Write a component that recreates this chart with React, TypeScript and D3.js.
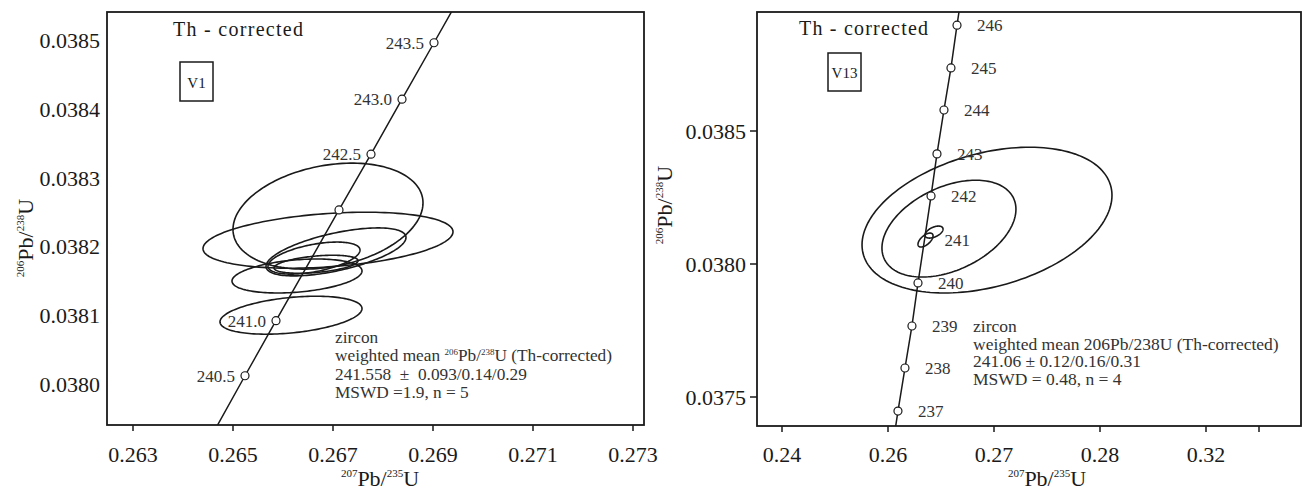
import React from "react";
import * as d3 from "d3";

// ---------- Left panel (V1) data ----------
const leftXTicks = [0.263, 0.265, 0.267, 0.269, 0.271, 0.273];
const leftYTicks = [0.038, 0.0381, 0.0382, 0.0383, 0.0384, 0.0385];
const leftConcAges = [240.0, 240.5, 241.0, 242.0, 242.5, 243.0, 243.5, 244.0];
const leftConcX = [0.26462, 0.26524, 0.26586, 0.26712, 0.26776, 0.26838, 0.26902, 0.26965];
const leftConcY = [0.037931, 0.038012, 0.038092, 0.038253, 0.038334, 0.038414, 0.038496, 0.038577];
const leftMarkerAges = [240.5, 241.0, 242.0, 242.5, 243.0, 243.5];
const leftLabelAges = [240.5, 241.0, 242.5, 243.0, 243.5];
// ellipses: center x, center y, half-width x, half-height y, correlation
const leftEllCX = [0.2669, 0.2669, 0.26706, 0.26662, 0.26666, 0.26628, 0.26616];
const leftEllCY = [0.038244, 0.038209, 0.038192, 0.038183, 0.038174, 0.038157, 0.0381];
const leftEllSX = [0.0019, 0.0025, 0.0014, 0.00092, 0.00084, 0.0013, 0.00142];
const leftEllSY = [0.000077, 0.0000407, 0.0000349, 0.0000233, 0.0000131, 0.0000247, 0.0000276];
const leftEllRho = [0.25, 0.3, 0.6, 0.5, 0.4, 0.3, 0.35];
const leftNotes = [
  "zircon",
  "weighted mean ²⁰⁶Pb/²³⁸U (Th-corrected)",
  "241.558  ±  0.093/0.14/0.29",
  "MSWD =1.9, n = 5",
];

// ---------- Right panel (V13) data ----------
const rightXTicks = [0.25, 0.26, 0.27, 0.28, 0.29, 0.295];
const rightXTickLabels = ["0.24", "0.26", "0.27", "0.28", "0.32", ""];
const rightYTicks = [0.0375, 0.038, 0.0385];
const rightConcAges = [236, 237, 238, 239, 240, 241, 242, 243, 244, 245, 246, 247];
const rightConcX = [0.26033, 0.26094, 0.2616, 0.26226, 0.26283, 0.26344, 0.26406, 0.26462, 0.26528, 0.26594, 0.26651, 0.26712];
const rightConcY = [0.037286, 0.037447, 0.037609, 0.037767, 0.037929, 0.03809, 0.038256, 0.038414, 0.038579, 0.038737, 0.038898, 0.03906];
const rightMarkerAges = [237, 238, 239, 240, 242, 243, 244, 245, 246];
const rightLabelAges = [237, 238, 239, 240, 241, 242, 243, 244, 245, 246];
const rightEllCX = [0.26934, 0.26575, 0.26434, 0.26354];
const rightEllCY = [0.038165, 0.038133, 0.03812, 0.03809];
const rightEllSX = [0.01179, 0.00632, 0.00085, 0.00071];
const rightEllSY = [0.000274, 0.000182, 0.0000226, 0.0000263];
const rightEllRho = [0.34, 0.4, 0.5, 0.6];
const rightNotes = [
  "zircon",
  "weighted mean 206Pb/238U (Th-corrected)",
  "241.06 ± 0.12/0.16/0.31",
  "MSWD = 0.48, n = 4",
];

const FONT = "'Liberation Serif', 'Times New Roman', serif";
const INK = "#1a1a1a";

function ellipsePath(
  cx: number, cy: number, sx: number, sy: number, rho: number,
  xs: d3.ScaleLinear<number, number>, ys: d3.ScaleLinear<number, number>
) {
  const pts: [number, number][] = d3.range(0, 160).map((i) => {
    const t = (i / 160) * 2 * Math.PI;
    const x = cx + sx * Math.cos(t);
    const y = cy + sy * (rho * Math.cos(t) + Math.sqrt(1 - rho * rho) * Math.sin(t));
    return [xs(x), ys(y)];
  });
  return d3.line().curve(d3.curveLinearClosed)(pts) || "";
}

function AxisTitle({ x, y, a, b, rotate }: { x: number; y: number; a: string; b: string; rotate?: boolean }) {
  return (
    <text transform={rotate ? `translate(${x},${y}) rotate(-90)` : `translate(${x},${y})`} fontSize={22} textAnchor="middle" fontFamily={FONT} fill={INK}>
      <tspan fontSize={11} dy={-9}>{a}</tspan><tspan dy={9}>Pb/</tspan><tspan fontSize={11} dy={-9}>{b}</tspan><tspan dy={9}>U</tspan>
    </text>
  );
}

function LeftPanel() {
  const L = 107, R = 644, T = 12, B = 425;
  const xs = d3.scaleLinear().domain([0.263, 0.273]).range([133, 633]);
  const ys = d3.scaleLinear().domain([0.038, 0.0385]).range([384, 40]);
  const conc = d3.line<number>().x((_, i) => xs(leftConcX[i])).y((_, i) => ys(leftConcY[i]));
  const idx = (a: number) => leftConcAges.indexOf(a);
  return (
    <g>
      <defs>
        <clipPath id="clipL"><rect x={L} y={T} width={R - L} height={B - T} /></clipPath>
      </defs>
      <rect x={L} y={T} width={R - L} height={B - T} fill="none" stroke={INK} strokeWidth={1.8} />
      {leftXTicks.map((t) => (
        <g key={t}>
          <line x1={xs(t)} x2={xs(t)} y1={B} y2={B + 6} stroke={INK} strokeWidth={1.5} />
          <text x={xs(t)} y={462} fontSize={22} textAnchor="middle" fontFamily={FONT} fill={INK}>{t.toFixed(3)}</text>
        </g>
      ))}
      {leftYTicks.map((t) => (
        <text key={t} x={100} y={ys(t) + 8} fontSize={22} textAnchor="end" fontFamily={FONT} fill={INK}>{t.toFixed(4)}</text>
      ))}
      <g clipPath="url(#clipL)">
        {leftEllCX.map((_, i) => (
          <path key={i} d={ellipsePath(leftEllCX[i], leftEllCY[i], leftEllSX[i], leftEllSY[i], leftEllRho[i], xs, ys)}
            fill="none" stroke={INK} strokeWidth={1.6} />
        ))}
        <path d={conc(leftConcAges) || ""} fill="none" stroke={INK} strokeWidth={1.5} />
        {leftMarkerAges.map((a) => (
          <circle key={a} cx={xs(leftConcX[idx(a)])} cy={ys(leftConcY[idx(a)])} r={4} fill="#fff" stroke={INK} strokeWidth={1.2} />
        ))}
      </g>
      {leftLabelAges.map((a) => (
        <text key={a} x={xs(leftConcX[idx(a)]) - 10} y={ys(leftConcY[idx(a)]) + 6} fontSize={17} textAnchor="end" fontFamily={FONT} fill="#333">{a.toFixed(1)}</text>
      ))}
      <text x={173} y={36} fontSize={20} fontFamily={FONT} fill={INK} textLength={130} lengthAdjust="spacing">Th - corrected</text>
      <rect x={180} y={62} width={33} height={39} fill="none" stroke={INK} strokeWidth={1.5} />
      <text x={196.5} y={88} fontSize={15} textAnchor="middle" fontFamily={FONT} fill={INK}>V1</text>
      <g fontFamily={FONT} fill="#333" fontSize={17.3}>
        {leftNotes.map((s, i) => (
          <text key={i} x={335} y={343 + i * 18.3} style={{ whiteSpace: "pre" }}>
            {i === 1 ? (
              <>
                weighted mean <tspan fontSize={9} dy={-6}>206</tspan><tspan dy={6}>Pb/</tspan><tspan fontSize={9} dy={-6}>238</tspan><tspan dy={6}>U (Th-corrected)</tspan>
              </>
            ) : s}
          </text>
        ))}
      </g>
      <AxisTitle x={380} y={486} a="207" b="235" />
      <AxisTitle x={33} y={238} a="206" b="238" rotate />
    </g>
  );
}

function RightPanel() {
  const L = 757, R = 1301, T = 12, B = 426;
  const xs = d3.scaleLinear().domain([0.26, 0.27]).range([888, 994]);
  const ys = d3.scaleLinear().domain([0.0375, 0.0385]).range([397, 131]);
  const conc = d3.line<number>().x((_, i) => xs(rightConcX[i])).y((_, i) => ys(rightConcY[i]));
  const idx = (a: number) => rightConcAges.indexOf(a);
  return (
    <g>
      <defs>
        <clipPath id="clipR"><rect x={L} y={T} width={R - L} height={B - T} /></clipPath>
      </defs>
      <rect x={L} y={T} width={R - L} height={B - T} fill="none" stroke={INK} strokeWidth={1.8} />
      {rightXTicks.map((t, i) => (
        <g key={t}>
          <line x1={xs(t)} x2={xs(t)} y1={B} y2={B + 6} stroke={INK} strokeWidth={1.5} />
          <text x={xs(t)} y={462} fontSize={22} textAnchor="middle" fontFamily={FONT} fill={INK}>{rightXTickLabels[i]}</text>
        </g>
      ))}
      {rightYTicks.map((t) => (
        <g key={t}>
          <line x1={L - 7} x2={L} y1={ys(t)} y2={ys(t)} stroke={INK} strokeWidth={1.5} />
          <text x={746} y={ys(t) + 8} fontSize={22} textAnchor="end" fontFamily={FONT} fill={INK}>{t.toFixed(4)}</text>
        </g>
      ))}
      <g clipPath="url(#clipR)">
        {rightEllCX.map((_, i) => (
          <path key={i} d={ellipsePath(rightEllCX[i], rightEllCY[i], rightEllSX[i], rightEllSY[i], rightEllRho[i], xs, ys)}
            fill="none" stroke={INK} strokeWidth={1.6} />
        ))}
        <path d={conc(rightConcAges) || ""} fill="none" stroke={INK} strokeWidth={1.5} />
        {rightMarkerAges.map((a) => (
          <circle key={a} cx={xs(rightConcX[idx(a)])} cy={ys(rightConcY[idx(a)])} r={4} fill="#fff" stroke={INK} strokeWidth={1.2} />
        ))}
      </g>
      {rightLabelAges.map((a) => (
        <text key={a} x={xs(rightConcX[idx(a)]) + 20} y={ys(rightConcY[idx(a)]) + 6} fontSize={17} fontFamily={FONT} fill="#333">{a}</text>
      ))}
      <text x={799} y={35} fontSize={20} fontFamily={FONT} fill={INK} textLength={129} lengthAdjust="spacing">Th - corrected</text>
      <rect x={828} y={53} width={33} height={38} fill="none" stroke={INK} strokeWidth={1.5} />
      <text x={844.5} y={78} fontSize={15} textAnchor="middle" fontFamily={FONT} fill={INK}>V13</text>
      <g fontFamily={FONT} fill="#333" fontSize={17.5}>
        {rightNotes.map((s, i) => (
          <text key={i} x={973} y={332 + i * 17.7} style={{ whiteSpace: "pre" }}>{s}</text>
        ))}
      </g>
      <AxisTitle x={1047} y={486} a="207" b="235" />
      <AxisTitle x={672} y={205} a="206" b="238" rotate />
    </g>
  );
}

export default function App() {
  return (
    <svg width={1302} height={493} style={{ position: "absolute", left: 0, top: 0, background: "#fff" }}>
      <rect width={1302} height={493} fill="#fff" />
      <LeftPanel />
      <RightPanel />
    </svg>
  );
}
